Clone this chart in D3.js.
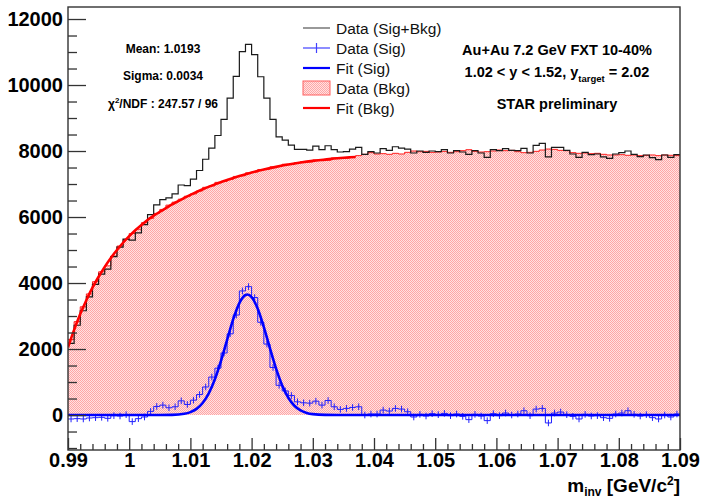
<!DOCTYPE html>
<html><head><meta charset="utf-8">
<script src="https://cdn.jsdelivr.net/npm/d3@7/dist/d3.min.js"></script>
<style>
html,body{margin:0;padding:0;background:#fff;}
svg{display:block;font-family:"Liberation Sans",Arial,Helvetica,sans-serif;}
</style></head>
<body>
<svg id="chart" width="701" height="499"></svg>
<script>
// ---------------- data ----------------
const binLow = 0.99, binWidth = 0.001, nBins = 100;
const xTickLabels = ["0.99","1","1.01","1.02","1.03","1.04","1.05","1.06","1.07","1.08","1.09"];
const yTickLabels = ["0","2000","4000","6000","8000","10000","12000"];

// Data (Bkg) per bin
const bkgData = [2290,2830,3280,3670,4040,4340,4520,4820,5120,5320,5500,5630,5830,5960,6110,6230,6360,6450,6540,
 6630,6700,6790,6900,6940,7050,7080,7140,7230,7250,7340,7360,7440,7450,7520,7530,7600,7590,7650,7680,7670,7730,7740,7720,7790,7800,7780,7830,7860,7900,7950,
 7910,7920,7900,7930,7910,7960,8000,7980,7990,7960,7970,7990,7960,7980,8010,8040,7990,7970,7980,8000,8030,8010,8020,7980,7950,7960,7990,8030,8060,8050,8020,8010,7950,7930,7940,7920,7930,7900,7880,7880,7890,7870,7880,7860,7870,7880,7860,7880,7870,7860];
// Data (Sig) per bin
const sigData = [-120,-110,-120,-90,-80,-70,-100,-20,-30,10,-200,-110,-60,
 110,260,300,220,250,430,320,450,620,850,1150,1420,1880,2460,3030,3760,3890,3560,2810,2150,1440,900,730,590,400,370,360,420,300,440,250,170,200,230,250,0,30,
 30,150,120,200,180,100,-60,20,-30,40,10,50,-20,30,-40,-140,20,-30,-170,40,-20,60,0,30,130,-20,180,200,-240,60,90,10,-40,-120,20,-30,-20,-80,-100,30,60,130,20,-30,10,-80,-120,0,-60,30];
// Data (Sig+Bkg) per bin
const totData = [2170,2720,3160,3580,3960,4270,4420,4800,5090,5330,5300,5520,5770,
 6070,6370,6530,6580,6700,6970,6950,7150,7410,7750,8090,8470,8960,9600,10260,11010,11230,10920,10250,9600,8960,8430,8330,8180,8050,8050,8030,8150,8040,8160,8040,7970,7980,8060,8110,7900,7980,
 7940,8070,8020,8130,8090,8060,7940,8000,7960,8000,7980,8040,7940,8010,7970,7900,8010,7940,7810,8040,8010,8070,8020,8010,8080,7940,8170,8230,7820,8110,8110,8020,7910,7810,7960,7890,7910,7820,7780,7910,7950,8000,7900,7830,7880,7800,7740,7880,7810,7890];
const sigErr = 100;

// Fit (Sig): sampled curve
const sigFitX = [0.990,1.003,1.005,1.007,1.009,1.010,1.011,1.012,1.013,1.014,1.015,1.016,1.017,1.018,1.019,1.0193,1.020,1.021,1.022,1.023,1.024,1.025,1.026,1.027,1.028,1.029,1.030,1.032,1.034,1.036,1.090];
const sigFitY = [0,0,0.5,5,37,87,185,364,656,1083,1641,2279,2904,3393,3636,3650,3573,3221,2663,2019,1404,895,524,281,138,62,26,3,0.5,0,0];
// Fit (Bkg): sampled curve
const bkgFitX = [0.990,0.991,0.992,0.993,0.994,0.995,0.996,0.997,0.998,0.999,1.000,1.001,1.002,1.003,1.004,1.005,1.006,1.007,1.008,1.009,1.010,1.012,1.014,1.016,1.018,1.020,1.022,1.024,1.026,1.028,1.030,1.032,1.034,1.036,1.037];
const bkgFitY = [2050,2580,3060,3480,3860,4190,4490,4760,5000,5220,5420,5600,5760,5910,6040,6160,6270,6380,6480,6580,6670,6840,6990,7120,7240,7350,7440,7520,7590,7650,7700,7740,7780,7810,7820];

// ---------------- layout ----------------
const L = 68, R = 680, T = 7, B = 450;
const svg = d3.select("#chart");
const x = d3.scaleLinear().domain([0.99, 1.09]).range([L, R]);
const y = d3.scaleLinear().domain([-1060, 12364]).range([B, T]);

const defs = svg.append("defs");
const pat = defs.append("pattern").attr("id","pinkdots").attr("patternUnits","userSpaceOnUse")
  .attr("width",2).attr("height",2);
pat.append("rect").attr("width",2).attr("height",2).attr("fill","#ffe2e2");
pat.append("rect").attr("x",0).attr("y",0).attr("width",1).attr("height",1).attr("fill","#ffa6a6");
pat.append("rect").attr("x",1).attr("y",1).attr("width",1).attr("height",1).attr("fill","#ffa6a6");
defs.append("clipPath").attr("id","frameclip").append("rect")
  .attr("x",L).attr("y",T).attr("width",R-L).attr("height",B-T);

const edges = d3.range(nBins + 1).map(i => binLow + i * binWidth);
function stepPts(vals){ const p = vals.map((v,i)=>[edges[i], v]); p.push([edges[nBins], vals[nBins-1]]); return p; }

const g = svg.append("g").attr("clip-path","url(#frameclip)");

// background filled histogram
const area = d3.area().curve(d3.curveStepAfter).x(d=>x(d[0])).y0(y(0)).y1(d=>y(d[1]));
g.append("path").attr("d", area(stepPts(bkgData))).attr("fill","url(#pinkdots)");
const stepLine = d3.line().curve(d3.curveStepAfter).x(d=>x(d[0])).y(d=>y(d[1]));
g.append("path").attr("d", stepLine(stepPts(bkgData))).attr("fill","none").attr("stroke","#ff2020").attr("stroke-width",1);

// total histogram
g.append("path").attr("d", stepLine(stepPts(totData))).attr("fill","none").attr("stroke","#1a1a1a").attr("stroke-width",1.2);

// bkg fit
const smooth = d3.line().curve(d3.curveMonotoneX).x(d=>x(d[0])).y(d=>y(d[1]));
g.append("path").attr("d", smooth(bkgFitX.map((v,i)=>[v,bkgFitY[i]]))).attr("fill","none")
  .attr("stroke","#ff0000").attr("stroke-width",2.6);

// signal histogram with error bars
g.append("path").attr("d", stepLine(stepPts(sigData))).attr("fill","none").attr("stroke","#2020ff").attr("stroke-width",1);
g.append("g").selectAll("line").data(sigData).join("line")
  .attr("x1",(d,i)=>x(edges[i]+binWidth/2)).attr("x2",(d,i)=>x(edges[i]+binWidth/2))
  .attr("y1",d=>y(d-sigErr)).attr("y2",d=>y(d+sigErr))
  .attr("stroke","#2020ff").attr("stroke-width",1);

// signal fit
g.append("path").attr("d", smooth(sigFitX.map((v,i)=>[v,sigFitY[i]]))).attr("fill","none")
  .attr("stroke","#0000ff").attr("stroke-width",2.6);

// ---------------- axes ----------------
const axCol = "#333";
svg.append("rect").attr("x",L).attr("y",T).attr("width",R-L).attr("height",B-T)
  .attr("fill","none").attr("stroke",axCol).attr("stroke-width",1.4);

const yMajorVals = yTickLabels.map(Number);
const yAxis = svg.append("g").attr("transform",`translate(${L},0)`)
  .call(d3.axisLeft(y).tickValues(yMajorVals).tickSize(-18).tickPadding(5).tickFormat((d,i)=>yTickLabels[i]));
const yMinor = svg.append("g").attr("transform",`translate(${L},0)`)
  .call(d3.axisLeft(y).tickValues(d3.range(-1000, 12001, 500).filter(v=>v%2000!==0)).tickSize(-9).tickFormat(""));
const xMajorVals = xTickLabels.map(Number);
const xAxis = svg.append("g").attr("transform",`translate(0,${B})`)
  .call(d3.axisBottom(x).tickValues(xMajorVals).tickSize(-12).tickPadding(3).tickFormat((d,i)=>xTickLabels[i]));
const xMinor = svg.append("g").attr("transform",`translate(0,${B})`)
  .call(d3.axisBottom(x).tickValues(d3.range(0,51).map(i=>0.99+i*0.002).filter((v,i)=>i%5!==0)).tickSize(-6).tickFormat(""));
[yAxis,yMinor,xAxis,xMinor].forEach(a=>{
  a.select(".domain").remove();
  a.selectAll(".tick line").attr("stroke",axCol).attr("stroke-width",1.3);
  a.selectAll("text").attr("fill","#000").attr("font-size",20).attr("font-weight","bold")
    .attr("font-family","'Liberation Sans',Arial,sans-serif");
});

// x title
const xt = svg.append("text").attr("x",R).attr("y",492).attr("text-anchor","end")
  .attr("font-size",19).attr("font-weight","bold");
xt.append("tspan").text("m");
xt.append("tspan").attr("font-size",12).attr("dy",4).text("inv");
xt.append("tspan").attr("dy",-4).text(" [GeV/c");
xt.append("tspan").attr("font-size",12).attr("dy",-7).text("2");
xt.append("tspan").attr("dy",7).text("]");

// ---------------- stats text ----------------
const statsLines = ["Mean: 1.0193","Sigma: 0.0034"];
const statsY = [53, 80];
statsLines.forEach((s,i)=>svg.append("text").attr("x",163).attr("y",statsY[i]).attr("text-anchor","middle")
  .attr("font-size",12).attr("font-weight","bold").text(s));
const chi = svg.append("text").attr("x",163).attr("y",108).attr("text-anchor","middle")
  .attr("font-size",12).attr("font-weight","bold");
chi.append("tspan").text("χ");
chi.append("tspan").attr("font-size",8).attr("dy",-5).text("2");
chi.append("tspan").attr("dy",5).text("/NDF : 247.57 / 96");

// ---------------- legend ----------------
const legItems = ["Data (Sig+Bkg)","Data (Sig)","Fit (Sig)","Data (Bkg)","Fit (Bkg)"];
const legY = [28, 48, 68, 88, 108];
const lx0 = 303, lx1 = 330;
legItems.forEach((t,i)=>{
  const cy = legY[i];
  if (i===0) svg.append("line").attr("x1",lx0).attr("x2",lx1).attr("y1",cy).attr("y2",cy).attr("stroke","#555").attr("stroke-width",1.2);
  if (i===1) {
    svg.append("line").attr("x1",lx0).attr("x2",lx1).attr("y1",cy).attr("y2",cy).attr("stroke","#4040ff").attr("stroke-width",1.2);
    svg.append("line").attr("x1",(lx0+lx1)/2).attr("x2",(lx0+lx1)/2).attr("y1",cy-5).attr("y2",cy+5).attr("stroke","#4040ff").attr("stroke-width",1.2);
  }
  if (i===2) svg.append("line").attr("x1",lx0).attr("x2",lx1).attr("y1",cy).attr("y2",cy).attr("stroke","#0000ff").attr("stroke-width",2.2);
  if (i===3) svg.append("rect").attr("x",lx0).attr("y",cy-7).attr("width",lx1-lx0).attr("height",14)
      .attr("fill","url(#pinkdots)").attr("stroke","#ff6060").attr("stroke-width",1);
  if (i===4) svg.append("line").attr("x1",lx0).attr("x2",lx1).attr("y1",cy).attr("y2",cy).attr("stroke","#ff0000").attr("stroke-width",2.2);
  svg.append("text").attr("x",336).attr("y",cy+5.5).attr("font-size",15.5).attr("fill","#111").text(t);
});

// ---------------- annotation ----------------
svg.append("text").attr("x",557).attr("y",55).attr("text-anchor","middle").attr("font-size",14.5).attr("font-weight","bold").text("Au+Au 7.2 GeV FXT 10-40%");
const t2 = svg.append("text").attr("x",557).attr("y",77).attr("text-anchor","middle").attr("font-size",14.5).attr("font-weight","bold");
t2.append("tspan").text("1.02 < y < 1.52, y");
t2.append("tspan").attr("font-size",9.5).attr("dy",5).text("target");
t2.append("tspan").attr("dy",-5).text(" = 2.02");
svg.append("text").attr("x",557).attr("y",109).attr("text-anchor","middle").attr("font-size",14.5).attr("font-weight","bold").text("STAR preliminary");
</script>
</body></html>
